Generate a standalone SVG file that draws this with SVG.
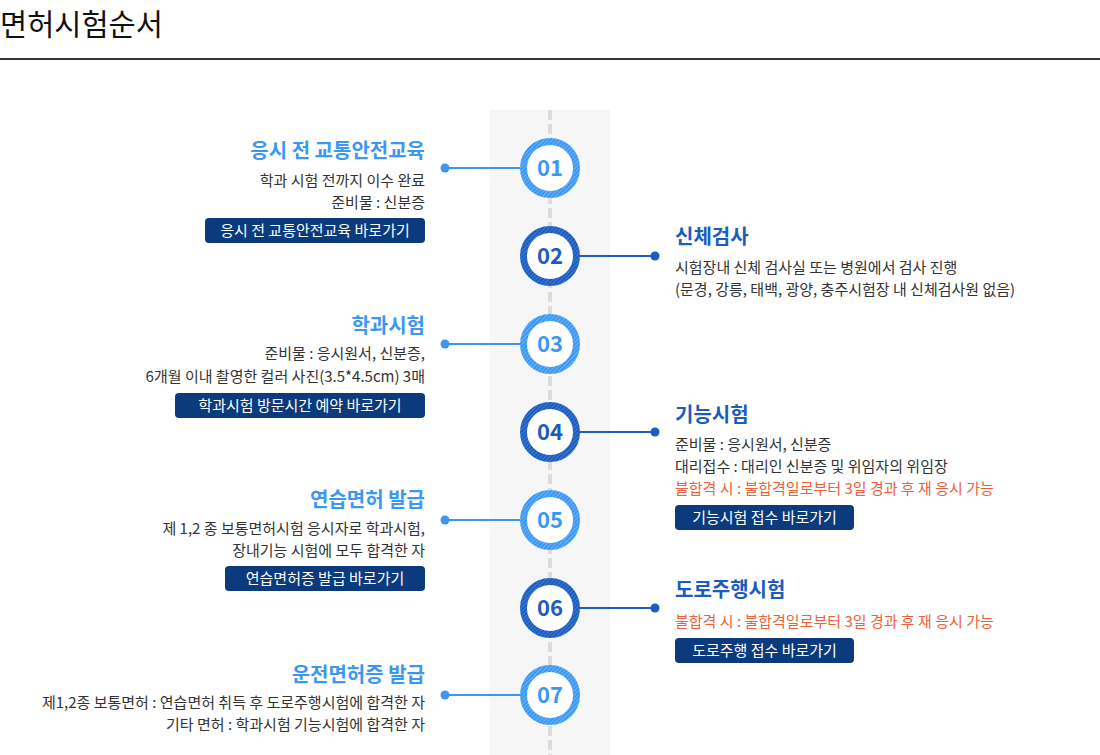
<svg xmlns="http://www.w3.org/2000/svg" width="1100" height="755" viewBox="0 0 1100 755">
<style>
text{font-family:"Noto Sans CJK KR","Noto Sans",sans-serif}
.h1{font-size:29.5px;fill:#111}
.tl{font-size:20px;font-weight:700;fill:#3b97f3}
.td{font-size:20px;font-weight:700;fill:#1b5cbf}
.b{font-size:15px;fill:#333}
.r{font-size:15px;fill:#ef5f3c}
.btn{fill:#0b3a7d}
.bt{font-size:15px;fill:#fff;text-anchor:middle}
.L{text-anchor:end}
.num{font-size:22px;font-weight:700;text-anchor:middle}
.cl{stroke:#3b97f3;stroke-width:2}
.cd{stroke:#1b5cbf;stroke-width:2}
</style>
<defs>
<pattern id="pl" patternUnits="userSpaceOnUse" width="3" height="3" patternTransform="rotate(45)">
<rect width="3" height="3" fill="#3b97f3"/><rect width="1" height="3" fill="#6db3f7"/>
</pattern>
<pattern id="pd" patternUnits="userSpaceOnUse" width="3" height="3" patternTransform="rotate(45)">
<rect width="3" height="3" fill="#1b5cbf"/><rect width="1" height="3" fill="#3f7bd3"/>
</pattern>
</defs>
<rect width="1100" height="755" fill="#fff"/>
<text class="h1" x="0" y="35">면허시험순서</text>
<rect x="0" y="58" width="1100" height="2" fill="#333"/>
<rect x="490" y="110" width="120" height="645" fill="#f6f6f6"/>
<line x1="550" y1="110" x2="550" y2="755" stroke="#dcdcdc" stroke-width="4" stroke-dasharray="10 4"/>
<g id="connectors">
<line class="cl" x1="445" y1="168" x2="522" y2="168"/><circle cx="445" cy="168" r="4.5" fill="#3b97f3"/>
<line class="cd" x1="578" y1="256" x2="655" y2="256"/><circle cx="655" cy="256" r="4.5" fill="#1b5cbf"/>
<line class="cl" x1="445" y1="344" x2="522" y2="344"/><circle cx="445" cy="344" r="4.5" fill="#3b97f3"/>
<line class="cd" x1="578" y1="432" x2="655" y2="432"/><circle cx="655" cy="432" r="4.5" fill="#1b5cbf"/>
<line class="cl" x1="445" y1="520" x2="522" y2="520"/><circle cx="445" cy="520" r="4.5" fill="#3b97f3"/>
<line class="cd" x1="578" y1="608" x2="655" y2="608"/><circle cx="655" cy="608" r="4.5" fill="#1b5cbf"/>
<line class="cl" x1="445" y1="695" x2="522" y2="695"/><circle cx="445" cy="695" r="4.5" fill="#3b97f3"/>
</g>
<g id="n01">
<circle cx="550" cy="168" r="26.5" fill="#fff" stroke="url(#pl)" stroke-width="7"/>
<text class="num" x="550" y="176" fill="#3b97f3">01</text>
<text class="tl L" x="425" y="158">응시 전 교통안전교육</text>
<text class="b L" x="425" y="186">학과 시험 전까지 이수 완료</text>
<text class="b L" x="425" y="208">준비물 : 신분증</text>
<rect class="btn" x="205" y="218" width="220" height="25" rx="4"/>
<text class="bt" x="315" y="236">응시 전 교통안전교육 바로가기</text>
</g>
<g id="n02">
<circle cx="550" cy="256" r="26.5" fill="#fff" stroke="url(#pd)" stroke-width="7"/>
<text class="num" x="550" y="264" fill="#1b5cbf">02</text>
<text class="td" x="675" y="244">신체검사</text>
<text class="b" x="675" y="273">시험장내 신체 검사실 또는 병원에서 검사 진행</text>
<text class="b" x="675" y="295">(문경, 강릉, 태백, 광양, 충주시험장 내 신체검사원 없음)</text>
</g>
<g id="n03">
<circle cx="550" cy="344" r="26.5" fill="#fff" stroke="url(#pl)" stroke-width="7"/>
<text class="num" x="550" y="352" fill="#3b97f3">03</text>
<text class="tl L" x="425" y="333">학과시험</text>
<text class="b L" x="425" y="359">준비물 : 응시원서, 신분증,</text>
<text class="b L" x="425" y="382">6개월 이내 촬영한 컬러 사진(3.5*4.5cm) 3매</text>
<rect class="btn" x="175" y="393" width="250" height="25" rx="4"/>
<text class="bt" x="300" y="411">학과시험 방문시간 예약 바로가기</text>
</g>
<g id="n04">
<circle cx="550" cy="432" r="26.5" fill="#fff" stroke="url(#pd)" stroke-width="7"/>
<text class="num" x="550" y="440" fill="#1b5cbf">04</text>
<text class="td" x="675" y="422">기능시험</text>
<text class="b" x="675" y="450">준비물 : 응시원서, 신분증</text>
<text class="b" x="675" y="472">대리접수 : 대리인 신분증 및 위임자의 위임장</text>
<text class="r" x="675" y="494">불합격 시 : 불합격일로부터 3일 경과 후 재 응시 가능</text>
<rect class="btn" x="675" y="505" width="179" height="25" rx="4"/>
<text class="bt" x="764.5" y="523">기능시험 접수 바로가기</text>
</g>
<g id="n05">
<circle cx="550" cy="520" r="26.5" fill="#fff" stroke="url(#pl)" stroke-width="7"/>
<text class="num" x="550" y="528" fill="#3b97f3">05</text>
<text class="tl L" x="425" y="507">연습면허 발급</text>
<text class="b L" x="425" y="534">제 1,2 종 보통면허시험 응시자로 학과시험,</text>
<text class="b L" x="425" y="556">장내기능 시험에 모두 합격한 자</text>
<rect class="btn" x="225" y="566" width="200" height="25" rx="4"/>
<text class="bt" x="325" y="584">연습면허증 발급 바로가기</text>
</g>
<g id="n06">
<circle cx="550" cy="608" r="26.5" fill="#fff" stroke="url(#pd)" stroke-width="7"/>
<text class="num" x="550" y="616" fill="#1b5cbf">06</text>
<text class="td" x="675" y="597">도로주행시험</text>
<text class="r" x="675" y="627">불합격 시 : 불합격일로부터 3일 경과 후 재 응시 가능</text>
<rect class="btn" x="675" y="638" width="179" height="25" rx="4"/>
<text class="bt" x="764.5" y="656">도로주행 접수 바로가기</text>
</g>
<g id="n07">
<circle cx="550" cy="695" r="26.5" fill="#fff" stroke="url(#pl)" stroke-width="7"/>
<text class="num" x="550" y="703" fill="#3b97f3">07</text>
<text class="tl L" x="425" y="682">운전면허증 발급</text>
<text class="b L" x="425" y="708">제1,2종 보통면허 : 연습면허 취득 후 도로주행시험에 합격한 자</text>
<text class="b L" x="425" y="730">기타 면허 : 학과시험 기능시험에 합격한 자</text>
</g>
</svg>
